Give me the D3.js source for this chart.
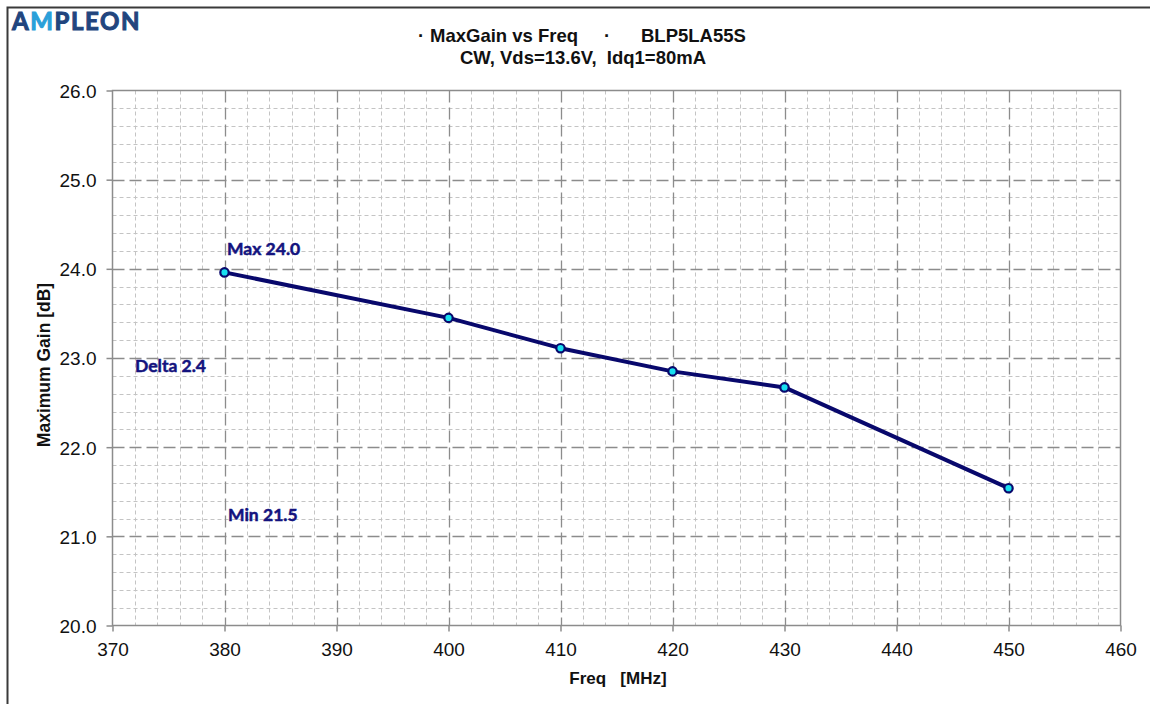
<!DOCTYPE html>
<html>
<head>
<meta charset="utf-8">
<script src="https://cdn.jsdelivr.net/npm/d3@7"></script>
<style>
  html, body { margin: 0; padding: 0; background: #fff; }
  svg { display: block; }
</style>
</head>
<body>
<svg id="chart" width="1150" height="704"></svg>
<script>
// Maximum gain measured across the band
const freqMHz = [380, 400, 410, 420, 430, 450];
const maxGainDb = [23.96, 23.45, 23.11, 22.85, 22.67, 21.54];

// Axis tick values
const xTicks = [370, 380, 390, 400, 410, 420, 430, 440, 450, 460];
const yTicks = [20.0, 21.0, 22.0, 23.0, 24.0, 25.0, 26.0];

const svg = d3.select("#chart");
const W = 1150, H = 704;
const plot = { left: 112.5, right: 1120.5, top: 90.5, bottom: 625.5 };
const SANS = "'Liberation Sans', Arial, sans-serif";

const x = d3.scaleLinear().domain([370, 460]).range([plot.left, plot.right]);
const y = d3.scaleLinear().domain([20, 26]).range([plot.bottom, plot.top]);

// Outer frame
svg.append("path")
  .attr("d", `M7.5,${H} V7.5 H${W}`)
  .attr("fill", "none").attr("stroke", "#3a3a3a").attr("stroke-width", 2);

// Logo wordmark
const logo = svg.append("text")
  .attr("x", 12).attr("y", 30)
  .attr("font-family", "Lato, 'Open Sans', sans-serif")
  .attr("font-weight", 700).attr("font-size", 24)
  .attr("letter-spacing", 1.6)
  .attr("fill", "#21457e").attr("stroke", "#21457e").attr("stroke-width", 1);
logo.append("tspan").text("A");
logo.append("tspan").attr("fill", "#2b9fd9").attr("stroke", "#2b9fd9").text("M");
logo.append("tspan").text("PLEON");

// Title, first line laid out in pieces
const title1 = [
  { t: "\u00b7", x: 418 },
  { t: "MaxGain vs Freq", x: 430 },
  { t: "\u00b7", x: 604 },
  { t: "BLP5LA55S", x: 641 }
];
svg.append("g").selectAll("text").data(title1).join("text")
  .attr("x", d => d.x).attr("y", 42)
  .attr("font-family", SANS).attr("font-weight", 700).attr("font-size", 18.5)
  .attr("fill", "#111")
  .text(d => d.t);
svg.append("text")
  .attr("x", 583).attr("y", 63.5)
  .attr("text-anchor", "middle")
  .attr("font-family", SANS).attr("font-weight", 700).attr("font-size", 18.5)
  .attr("fill", "#111")
  .attr("xml:space", "preserve").style("white-space", "pre")
  .text("CW, Vds=13.6V,  Idq1=80mA");

// Minor grid
const xMinor = d3.range(370, 460.001, 2).filter(v => v % 10 !== 0);
const yMinor = d3.range(20, 26.001, 0.2).map(v => +v.toFixed(1)).filter(v => Math.abs(v - Math.round(v)) > 1e-6);
const grid = svg.append("g");
grid.selectAll(".vminor").data(xMinor).join("line")
  .attr("x1", d => Math.round(x(d)) + 0.5).attr("x2", d => Math.round(x(d)) + 0.5)
  .attr("y1", plot.top).attr("y2", plot.bottom)
  .attr("stroke", "#c4c4c4").attr("stroke-width", 1).attr("stroke-dasharray", "4,3");
grid.selectAll(".hminor").data(yMinor).join("line")
  .attr("x1", plot.left).attr("x2", plot.right)
  .attr("y1", d => Math.round(y(d)) + 0.5).attr("y2", d => Math.round(y(d)) + 0.5)
  .attr("stroke", "#c4c4c4").attr("stroke-width", 1).attr("stroke-dasharray", "4,3");

// Major grid
grid.selectAll(".vmajor").data(xTicks.slice(1, -1)).join("line")
  .attr("x1", d => Math.round(x(d)) + 0.5).attr("x2", d => Math.round(x(d)) + 0.5)
  .attr("y1", plot.top).attr("y2", plot.bottom)
  .attr("stroke", "#8c8c8c").attr("stroke-width", 1.3).attr("stroke-dasharray", "12,5");
grid.selectAll(".hmajor").data(yTicks.slice(1, -1)).join("line")
  .attr("x1", plot.left).attr("x2", plot.right)
  .attr("y1", d => Math.round(y(d)) + 0.5).attr("y2", d => Math.round(y(d)) + 0.5)
  .attr("stroke", "#8c8c8c").attr("stroke-width", 1.3).attr("stroke-dasharray", "12,5");

// Plot border
svg.append("rect")
  .attr("x", plot.left).attr("y", plot.top)
  .attr("width", plot.right - plot.left).attr("height", plot.bottom - plot.top)
  .attr("fill", "none").attr("stroke", "#8c8c8c").attr("stroke-width", 1.5);

// Axes
const xAxis = d3.axisBottom(x).tickValues(xTicks).tickSize(6).tickPadding(11).tickFormat(d3.format("d"));
const yAxis = d3.axisLeft(y).tickValues(yTicks).tickSize(6).tickPadding(10).tickFormat(d3.format(".1f"));

function styleAxis(g) {
  g.select(".domain").remove();
  g.selectAll(".tick line").attr("stroke", "#8c8c8c").attr("stroke-width", 1.5);
  g.selectAll(".tick text")
    .attr("font-family", SANS)
    .attr("font-size", 19).attr("fill", "#111");
}
svg.append("g").attr("transform", `translate(0,${plot.bottom})`).call(xAxis).call(styleAxis);
svg.append("g").attr("transform", `translate(${plot.left},0)`).call(yAxis).call(styleAxis)
  .selectAll(".tick text").attr("dy", "0.36em");

// Axis titles
svg.append("text")
  .attr("x", 618).attr("y", 684)
  .attr("text-anchor", "middle")
  .attr("font-family", SANS)
  .attr("font-weight", 700).attr("font-size", 17).attr("fill", "#111")
  .attr("xml:space", "preserve").style("white-space", "pre")
  .text("Freq   [MHz]");
svg.append("text")
  .attr("transform", `translate(50,365) rotate(-90)`)
  .attr("text-anchor", "middle")
  .attr("font-family", SANS)
  .attr("font-weight", 700).attr("font-size", 17.5).attr("fill", "#111")
  .text("Maximum Gain [dB]");

// Data line and markers
const pts = freqMHz.map((f, i) => [f, maxGainDb[i]]);
svg.append("path")
  .datum(pts)
  .attr("d", d3.line().x(d => x(d[0])).y(d => y(d[1])))
  .attr("fill", "none").attr("stroke", "#08086c").attr("stroke-width", 4)
  .attr("stroke-linejoin", "round");
svg.append("g").selectAll("circle").data(pts).join("circle")
  .attr("cx", d => x(d[0])).attr("cy", d => y(d[1]))
  .attr("r", 4.2)
  .attr("fill", "#18e0f0").attr("stroke", "#08086c").attr("stroke-width", 2.2);

// Summary annotations
const maxV = d3.max(maxGainDb), minV = d3.min(maxGainDb);
const notes = [
  { label: `Max ${maxV.toFixed(1)}`, tx: 227, ty: 255 },
  { label: `Delta ${(maxV - minV).toFixed(1)}`, tx: 135, ty: 372 },
  { label: `Min ${minV.toFixed(1)}`, tx: 228, ty: 521 }
];
svg.append("g").selectAll("text").data(notes).join("text")
  .attr("x", d => d.tx).attr("y", d => d.ty)
  .attr("font-family", "Lato, 'Open Sans', sans-serif")
  .attr("font-weight", 700).attr("font-size", 17.5)
  .attr("fill", "#13137e").attr("stroke", "#13137e").attr("stroke-width", 0.5)
  .text(d => d.label);
</script>
</body>
</html>
